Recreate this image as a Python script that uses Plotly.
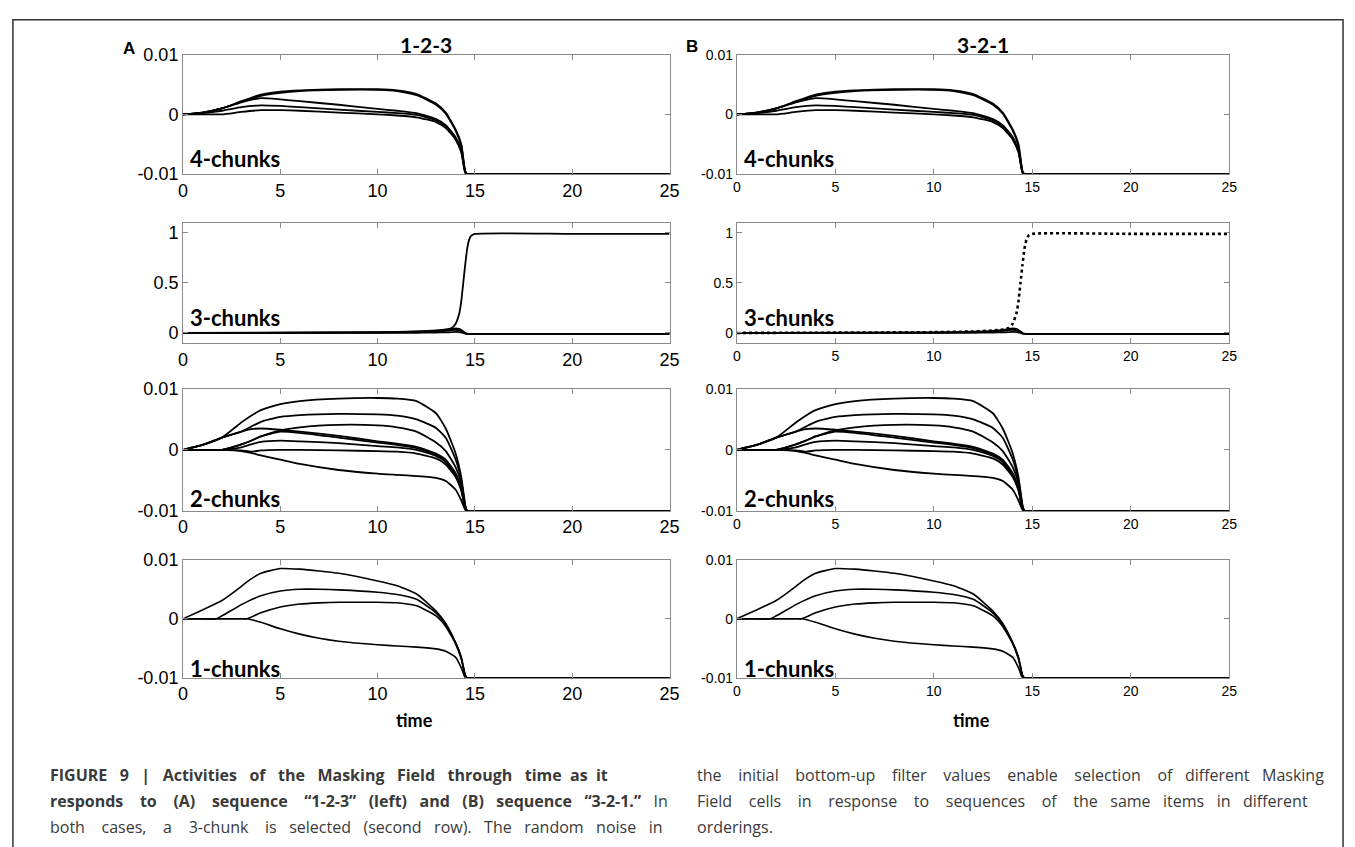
import plotly.graph_objects as go

W, H = 1355, 847

# ---------------- data ----------------
X_TICKS = [0, 5, 10, 15, 20, 25]
Y_TICKS_SMALL = [-0.01, 0, 0.01]
Y_TICKTEXT_SMALL = ["-0.01", "0", "0.01"]
Y_TICKS_BIG = [0, 0.5, 1]
Y_TICKTEXT_BIG = ["0", "0.5", "1"]

# 4-chunks (values x 1e-3)
T4 = [0, 1, 2, 3, 4, 5, 6, 8, 10, 11, 12, 13, 13.5, 14, 14.3, 14.5, 14.6, 15, 25]
c4_a = [0, 0.3, 1.0, 2.2, 3.3, 3.8, 4.0, 4.2, 4.2, 4.0, 3.4, 1.8, 0.3, -2.5, -5.0, -9.5, -10, -10, -10]
c4_a2 = [0, 0.3, 1.0, 2.1, 3.1, 3.6, 3.9, 4.1, 4.1, 3.9, 3.2, 1.6, 0.1, -2.7, -5.3, -9.6, -10, -10, -10]
c4_b = [0, 0.3, 1.0, 2.0, 2.7, 2.5, 2.2, 1.6, 0.9, 0.6, 0.2, -0.8, -1.8, -3.8, -6.0, -9.6, -10, -10, -10]
c4_c = [0, 0.2, 0.6, 1.2, 1.5, 1.4, 1.2, 0.8, 0.4, 0.2, -0.1, -1.0, -2.0, -4.0, -6.2, -9.7, -10, -10, -10]
c4_d = [0, 0.0, 0.0, 0.4, 0.7, 0.7, 0.6, 0.3, 0.0, -0.2, -0.5, -1.3, -2.3, -4.2, -6.4, -9.8, -10, -10, -10]

# 3-chunks
T3 = [0, 5, 10, 12, 13, 13.5, 13.8, 14.0, 14.2, 14.3, 14.4, 14.5, 14.6, 14.7, 14.8, 15, 20, 25]
c3_win = [0, 0.003, 0.008, 0.015, 0.025, 0.035, 0.05, 0.09, 0.2, 0.32, 0.5, 0.68, 0.84, 0.93, 0.97, 0.99, 0.99, 0.99]
c3_l1 = [0, 0.002, 0.006, 0.012, 0.02, 0.03, 0.04, 0.045, 0.04, 0.03, 0.015, 0.0, -0.008, -0.01, -0.01, -0.01, -0.01, -0.01]
c3_l2 = [0, 0.001, 0.004, 0.008, 0.014, 0.02, 0.028, 0.032, 0.025, 0.015, 0.005, -0.005, -0.01, -0.01, -0.01, -0.01, -0.01, -0.01]
c3_l3 = [0, 0.0, 0.001, 0.002, 0.004, 0.006, 0.008, 0.01, 0.008, 0.004, 0.0, -0.006, -0.01, -0.01, -0.01, -0.01, -0.01, -0.01]

# 2-chunks (values x 1e-3)
T2 = [0, 1, 2, 3, 3.5, 4, 5, 6, 8, 10, 11, 12, 13, 13.5, 14, 14.3, 14.5, 14.6, 15, 25]
c2_a = [0, 0.8, 2.0, 4.5, 5.6, 6.5, 7.5, 8.0, 8.4, 8.5, 8.4, 8.0, 6.0, 3.5, -0.5, -4.5, -9.0, -10, -10, -10]
c2_b = [0, 0.8, 2.0, 3.0, 3.8, 4.6, 5.4, 5.7, 5.9, 5.8, 5.6, 5.0, 3.6, 2.0, -1.5, -5.0, -9.2, -10, -10, -10]
c2_c = [0, 0.8, 2.0, 3.0, 3.4, 3.5, 3.3, 3.0, 2.3, 1.4, 1.0, 0.5, -0.6, -1.6, -3.8, -6.2, -9.4, -10, -10, -10]
c2_d = [0, 0, 0, 0.9, 1.5, 2.2, 3.2, 3.7, 4.1, 4.0, 3.7, 3.0, 1.2, -0.2, -2.8, -5.5, -9.3, -10, -10, -10]
c2_e = [0, 0, 0, 0.9, 1.5, 2.2, 3.0, 2.8, 2.0, 1.2, 0.8, 0.3, -0.8, -1.8, -4.0, -6.3, -9.5, -10, -10, -10]
c2_f = [0, 0, 0, 0.4, 0.9, 1.3, 1.5, 1.4, 1.1, 0.6, 0.4, 0.0, -1.0, -2.0, -4.2, -6.5, -9.5, -10, -10, -10]
c2_g = [0, 0, 0, -0.1, -0.3, -0.1, 0.0, 0.0, -0.1, -0.2, -0.3, -0.6, -1.4, -2.4, -4.4, -6.7, -9.6, -10, -10, -10]
c2_h = [0, 0, 0, -0.2, -0.5, -0.9, -1.6, -2.3, -3.3, -3.9, -4.1, -4.3, -4.6, -5.1, -6.5, -8.3, -9.8, -10, -10, -10]

# 1-chunks (values x 1e-3)
T1 = [0, 1, 1.7, 2, 3, 3.3, 4, 5, 6, 7, 8, 10, 11, 12, 13, 13.5, 14, 14.3, 14.5, 14.6, 15, 25]
c1_a = [0, 1.5, 2.6, 3.1, 5.5, 6.3, 7.7, 8.5, 8.4, 8.1, 7.7, 6.4, 5.6, 4.2, 1.3, -0.8, -4.0, -6.5, -9.5, -10, -10, -10]
c1_b = [0, 0, 0, 0.5, 2.4, 2.9, 3.9, 4.7, 5.0, 5.0, 4.9, 4.5, 4.1, 3.3, 1.0, -1.0, -4.0, -6.7, -9.6, -10, -10, -10]
c1_c = [0, 0, 0, 0, 0, 0, 1.0, 2.0, 2.5, 2.7, 2.8, 2.8, 2.7, 2.2, 0.5, -1.3, -4.2, -6.8, -9.6, -10, -10, -10]
c1_d = [0, 0, 0, 0, 0, 0, -0.6, -1.7, -2.6, -3.3, -3.8, -4.4, -4.6, -4.8, -5.1, -5.5, -6.5, -8.3, -10, -10, -10, -10]

ROW_LABELS = ["4-chunks", "3-chunks", "2-chunks", "1-chunks"]
COL_TITLES = ["1-2-3", "3-2-1"]
PANEL_LETTERS = ["A", "B"]

# caption lines: (text, total number of spaces spread over the gaps)
CAPTION_LEFT = [
    ("<b>FIGURE 9 | Activities of the Masking Field through time as it</b>", 31),
    ("<b>responds to (A) sequence “1-2-3” (left) and (B) sequence “3-2-1.”</b> In", 34),
    ("both cases, a 3-chunk is selected (second row). The random noise in", 37),
]
CAPTION_RIGHT = [
    ("the initial bottom-up filter values enable selection of different Masking", 34),
    ("Field cells in response to sequences of the same items in different", 40),
    ("orderings.", 0),
]

# ---------------- layout geometry (pixels) ----------------
COLS_PX = [(180, 672), (740, 1238)]
ROWS_PX = [(45.7, 168), (218, 341), (388, 513), (563, 684)]
LABEL_Y = [152, 315, 500, 674]
CAP_X = [43, 698]
CAP_Y = [783, 810, 837]

def fx(p):
    return p / W

def fy(p):
    return 1 - p / H

fig = go.Figure()

def add_curves(k, t, curves, scale, width, dash_first=False):
    for i, c in enumerate(curves):
        dash = "dot" if (dash_first and i == 0) else "solid"
        w = 2.6 if (dash_first and i == 0) else width
        fig.add_trace(go.Scatter(
            x=t, y=[v * scale for v in c], mode="lines",
            line=dict(color="black", width=w, dash=dash, shape="spline", smoothing=0.5),
            xaxis=f"x{k}", yaxis=f"y{k}", showlegend=False, hoverinfo="skip"))

panels = [
    (T4, [c4_a, c4_a2, c4_b, c4_c, c4_d], 1e-3, 1.8),
    (T3, [c3_win, c3_l1, c3_l2, c3_l3], 1.0, 1.8),
    (T2, [c2_a, c2_b, c2_c, c2_d, c2_e, c2_f, c2_g, c2_h], 1e-3, 1.8),
    (T1, [c1_a, c1_b, c1_c, c1_d], 1e-3, 1.6),
]

layout_axes = {}
for r in range(4):
    for c in range(2):
        k = r * 2 + c + 1
        t, curves, scale, width = panels[r]
        add_curves(k, t, curves, scale, width, dash_first=(r == 1 and c == 1))
        x0, x1 = COLS_PX[c]
        y0, y1 = ROWS_PX[r]
        fs = 18 if c == 0 else 14
        common = dict(showline=True, mirror="allticks", ticks="inside", ticklen=5,
                      linecolor="#8a8a8a", linewidth=1, tickcolor="#8a8a8a",
                      showgrid=False, zeroline=False, fixedrange=True,
                      tickfont=dict(family="Liberation Sans, Arial", size=fs, color="black"))
        layout_axes[f"xaxis{k}"] = dict(domain=[fx(x0), fx(x1)], range=[0, 25],
                                        tickvals=X_TICKS, anchor=f"y{k}", **common)
        if r == 1:
            yr, tv, tt = [-0.1, 1.1], Y_TICKS_BIG, Y_TICKTEXT_BIG
        else:
            yr, tv, tt = [-0.01, 0.01], Y_TICKS_SMALL, Y_TICKTEXT_SMALL
        layout_axes[f"yaxis{k}"] = dict(domain=[fy(y1), fy(y0)], range=yr,
                                        tickvals=tv, ticktext=tt, anchor=f"x{k}", **common)

fig.update_layout(**layout_axes)

ann = []
bold_font = "Lato, Carlito, Calibri, sans-serif"
for r in range(4):
    for c in range(2):
        x0 = COLS_PX[c][0]
        ann.append(dict(x=fx(x0 + 5), y=fy(LABEL_Y[r]), xref="paper", yref="paper",
                        text=f"<b>{ROW_LABELS[r]}</b>", showarrow=False,
                        xanchor="left", yanchor="middle",
                        font=dict(family=bold_font, size=22, color="black")))
for c in range(2):
    cx = (COLS_PX[c][0] + COLS_PX[c][1]) / 2
    ann.append(dict(x=fx(cx), y=fy(35), xref="paper", yref="paper",
                    text=f"<b>{COL_TITLES[c]}</b>", showarrow=False,
                    xanchor="center", yanchor="middle",
                    font=dict(family=bold_font, size=21, color="black")))
    ann.append(dict(x=fx(cx - 12), y=fy(727), xref="paper", yref="paper",
                    text="<b>time</b>", showarrow=False,
                    xanchor="center", yanchor="middle",
                    font=dict(family=bold_font, size=18, color="black")))
ann.append(dict(x=fx(125), y=fy(39), xref="paper", yref="paper", text=f"<b>{PANEL_LETTERS[0]}</b>",
                showarrow=False, xanchor="center", yanchor="middle",
                font=dict(family="Liberation Sans, Arial", size=17, color="black")))
ann.append(dict(x=fx(695), y=fy(37), xref="paper", yref="paper", text=f"<b>{PANEL_LETTERS[1]}</b>",
                showarrow=False, xanchor="center", yanchor="middle",
                font=dict(family="Liberation Sans, Arial", size=17, color="black")))

def justify(text, total):
    words = text.split(" ")
    gaps = len(words) - 1
    if gaps <= 0:
        return text
    base, extra = divmod(max(total, gaps), gaps)
    out = words[0]
    for i, w in enumerate(words[1:]):
        n = base + (1 if i < extra else 0)
        out += "\u00a0" * n + w
    return out

cap_font = dict(family="Open Sans, sans-serif", size=16, color="#3a3a3a")
for col, lines in enumerate([CAPTION_LEFT, CAPTION_RIGHT]):
    for i, (txt, n) in enumerate(lines):
        ann.append(dict(x=fx(CAP_X[col]), y=fy(CAP_Y[i]), xref="paper", yref="paper",
                        text=justify(txt, n), showarrow=False,
                        xanchor="left", yanchor="middle", font=cap_font))

fig.update_layout(
    width=W, height=H, autosize=False,
    margin=dict(l=0, r=0, t=0, b=0),
    paper_bgcolor="white", plot_bgcolor="white",
    annotations=ann,
    shapes=[dict(type="rect", xref="paper", yref="paper",
                 x0=fx(8), x1=fx(1353), y0=fy(880), y1=fy(10),
                 line=dict(color="#333333", width=1.5), fillcolor="rgba(0,0,0,0)")],
)

fig.write_html("out.html")
